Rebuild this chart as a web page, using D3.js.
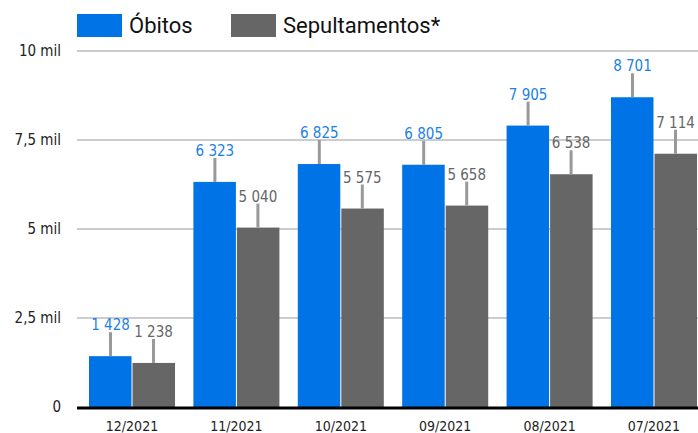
<!DOCTYPE html>
<html>
<head>
<meta charset="utf-8">
<script src="https://cdn.jsdelivr.net/npm/d3@7"></script>
<style>
  body { margin: 0; background: #fff; }
  svg { display: block; }
</style>
</head>
<body>
<svg class="chart" width="698" height="433"></svg>
<script>
var months = ["12/2021", "11/2021", "10/2021", "09/2021", "08/2021", "07/2021"];
var obitos = [1428, 6323, 6825, 6805, 7905, 8701];
var sepultamentos = [1238, 5040, 5575, 5658, 6538, 7114];
var seriesNames = ["Óbitos", "Sepultamentos*"];
var seriesColors = ["#0073e6", "#666666"];
var labelColors = ["#1a7fe8", "#666666"];
var yTicks = [0, 2500, 5000, 7500, 10000];
var yTickLabels = ["0", "2,5 mil", "5 mil", "7,5 mil", "10 mil"];

var svg = d3.select(".chart"),
    margin = {left: 77, right: 0, top: 51, bottom: 26},
    width = 698 - margin.left - margin.right,
    height = 433 - margin.top - margin.bottom;

var g = svg.append("g").attr("transform", "translate(" + margin.left + "," + margin.top + ")");

var x = d3.scaleBand().domain(months).range([12, 620]).paddingInner(0.176).paddingOuter(0);
var x1 = d3.scaleBand().domain([0, 1]).range([0, x.bandwidth()]);
var y = d3.scaleLinear().domain([0, 10000]).range([height, 0]);

var font = "15px 'DejaVu Sans Condensed'";

// grid
g.selectAll(".grid").data(yTicks.slice(1)).enter().append("line")
    .attr("x1", 0).attr("x2", width)
    .attr("y1", function(d) { return y(d); }).attr("y2", function(d) { return y(d); })
    .attr("stroke", "#cccccc").attr("stroke-width", 2);

g.selectAll(".ytick").data(yTicks).enter().append("text")
    .attr("x", -16).attr("y", function(d) { return y(d); }).attr("dy", "0.35em")
    .attr("text-anchor", "end")
    .style("font", font).style("fill", "#222")
    .text(function(d, i) { return yTickLabels[i]; });

var data = months.map(function(m, i) { return [obitos[i], sepultamentos[i]]; });

var groups = g.selectAll(".grp").data(data).enter().append("g")
    .attr("transform", function(d, i) { return "translate(" + x(months[i]) + ",0)"; });

groups.selectAll("rect").data(function(d) { return d; }).enter().append("rect")
    .attr("x", function(d, j) { return x1(j) + (j ? 0.5 : 0); })
    .attr("width", x1.bandwidth() - 0.5)
    .attr("y", function(d) { return y(d); })
    .attr("height", function(d) { return y(0) - y(d); })
    .attr("fill", function(d, j) { return seriesColors[j]; });

groups.selectAll(".lead").data(function(d) { return d; }).enter().append("line")
    .attr("x1", function(d, j) { return x1(j) + x1.bandwidth() / 2; })
    .attr("x2", function(d, j) { return x1(j) + x1.bandwidth() / 2; })
    .attr("y1", function(d) { return y(d); })
    .attr("y2", function(d) { return y(d) - 24; })
    .attr("stroke", "#999999").attr("stroke-width", 3);

var fmt = function(v) { return d3.format(",")(v).replace(",", " "); };

groups.selectAll(".lbl").data(function(d) { return d; }).enter().append("text")
    .attr("x", function(d, j) { return x1(j) + x1.bandwidth() / 2; })
    .attr("y", function(d) { return y(d) - 26; })
    .attr("text-anchor", "middle")
    .style("font", font)
    .style("fill", function(d, j) { return labelColors[j]; })
    .text(fmt);

// baseline
g.append("line").attr("x1", 0).attr("x2", width)
    .attr("y1", y(0) + 1).attr("y2", y(0) + 1)
    .attr("stroke", "#000").attr("stroke-width", 3);

g.selectAll(".xlab").data(months).enter().append("text")
    .attr("x", function(d) { return x(d) + x.bandwidth() / 2; })
    .attr("y", y(0) + 24)
    .attr("text-anchor", "middle")
    .style("font", "14px 'DejaVu Sans Condensed'").style("fill", "#222")
    .text(function(d) { return d; });

// legend
var legend = svg.selectAll(".leg").data(seriesNames).enter().append("g")
    .attr("transform", function(d, i) { return "translate(" + (77 + i * 154) + ",14)"; });
legend.append("rect").attr("width", 45).attr("height", 23)
    .attr("fill", function(d, i) { return seriesColors[i]; });
legend.append("text").attr("x", 52).attr("y", 19)
    .style("font", "22px Roboto").style("fill", "#111")
    .text(function(d) { return d; });
</script>
</body>
</html>
